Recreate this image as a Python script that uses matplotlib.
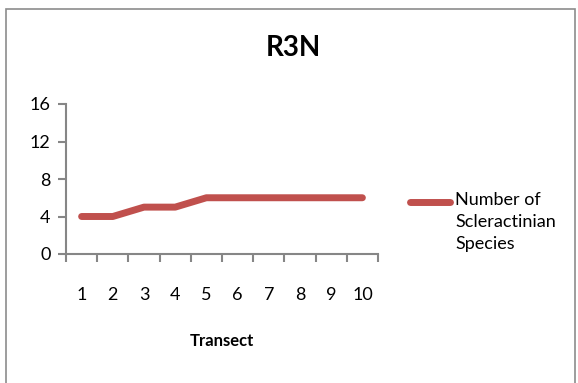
import matplotlib
matplotlib.use('Agg')
import matplotlib.pyplot as plt
from matplotlib.patches import Rectangle
import numpy as np

plt.rcParams['font.family'] = ['Lato', 'DejaVu Sans']

# Data
transects = [1, 2, 3, 4, 5, 6, 7, 8, 9, 10]
species = [4, 4, 5, 5, 6, 6, 6, 6, 6, 6]
y_ticks = [0, 4, 8, 12, 16]

W, H = 578, 383
fig = plt.figure(figsize=(W / 100, H / 100), dpi=100)

# outer chart border
fig.patches.append(Rectangle((6 / W, -0.05), (575 - 6) / W, (383 - 9) / H + 0.05,
                             transform=fig.transFigure, fill=False,
                             edgecolor='#8c8c8c', linewidth=1.2))

grey = '#868686'
red = '#C0504D'
ax = fig.add_axes([66 / W, (H - 254) / H, (378 - 66) / W, 150 / H])
ax.plot(transects, species, color=red, linewidth=5,
        solid_capstyle='round', solid_joinstyle='round')

ax.set_xlim(0.5, 10.5)
ax.set_ylim(0, 16)
ax.set_yticks(y_ticks)
ax.set_xticks(transects)
ax.set_xticks(np.arange(0.5, 11, 1), minor=True)
ax.tick_params(axis='x', which='major', length=0, pad=24, labelsize=13)
ax.tick_params(axis='x', which='minor', length=6, width=1.5, color=grey, direction='out')
ax.tick_params(axis='y', length=6, width=1.5, color=grey, direction='out', pad=5, labelsize=13)

for s in ['top', 'right']:
    ax.spines[s].set_visible(False)
for s in ['left', 'bottom']:
    ax.spines[s].set_color(grey)
    ax.spines[s].set_linewidth(1.5)

fig.text(222 / W, 1 - 341 / H, 'Transect', ha='center', va='center',
         fontsize=12, fontweight='bold')
fig.text(293 / W, 1 - 48 / H, 'R3N', ha='center', va='center',
         fontsize=20, fontweight='bold')

# legend drawn by hand to match placement
fig.add_artist(plt.Line2D([410 / W, 450 / W], [1 - 202 / H, 1 - 202 / H],
                          color=red, linewidth=5, solid_capstyle='round',
                          transform=fig.transFigure))
fig.text(455 / W, 1 - 192 / H, 'Number of\nScleractinian\nSpecies', ha='left', va='top',
         fontsize=13, linespacing=1.45)

fig.savefig('out.png', dpi=100)
